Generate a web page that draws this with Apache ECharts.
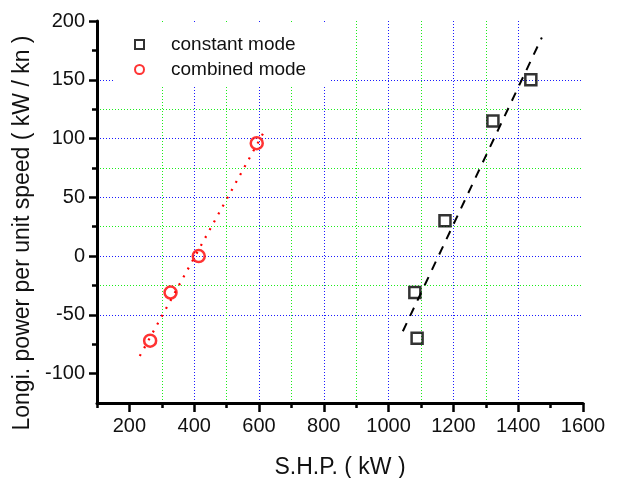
<!DOCTYPE html>
<html>
<head>
<meta charset="utf-8">
<script src="https://cdn.jsdelivr.net/npm/echarts@6/dist/echarts.min.js"></script>
<style>html,body{margin:0;padding:0;background:#fff}#c{width:617px;height:478px}</style>
</head>
<body>
<div id="c"></div>
<script>
// Data
var constantX = [1081, 1088, 1174, 1322, 1439];
var constantY = [-31, -70, 30, 115, 150];
var combinedX = [264, 327, 414, 593];
var combinedY = [-72, -31, 0, 96];
// Fit line end points
var constantFitX = [1044, 1473];
var constantFitY = [-64, 186];
var combinedFitX = [232, 616];
var combinedFitY = [-85, 106];
// Tick values
var xMajor = [200, 400, 600, 800, 1000, 1200, 1400, 1600];
var xMinor = [100, 300, 500, 700, 900, 1100, 1300, 1500];
var yMajor = [-100, -50, 0, 50, 100, 150, 200];
var yMinor = [-75, -25, 25, 75, 125, 175];

function pairs(xs, ys) { return xs.map(function (x, i) { return [x, ys[i]]; }); }
function plain(v) { return String(v); }

var FONT = 'Liberation Sans, Arial, sans-serif';
var BLUE = '#1a1aff';
var GREEN = '#1aee1a';
var dot = [1, 2];
var TICK = { color: '#000', width: 2.5 };

function tickAxis(kind, min, max, vals, len, split) {
  var a = {
    type: 'value', min: min, max: max, interval: kind === 'x' ? 100 : 25,
    position: kind === 'x' ? 'bottom' : 'left',
    axisLine: { show: false, onZero: false },
    axisTick: { show: true, inside: false, length: len, customValues: vals, lineStyle: TICK },
    axisLabel: { show: false },
    splitLine: { show: false }
  };
  if (split) {
    a.splitLine = { show: true, showMinLine: false, showMaxLine: false, lineStyle: { color: split, width: 1, type: dot } };
  }
  return a;
}

var chart = echarts.init(document.getElementById('c'), null, { renderer: 'canvas' });
chart.setOption({
  animation: false,
  backgroundColor: '#fff',
  grid: { left: 97, right: 34, top: 21, bottom: 75, containLabel: false, outerBoundsMode: 'none' },
  legend: {
    data: ['constant mode', 'combined mode'],
    left: 113, top: 24,
    orient: 'vertical',
    backgroundColor: '#fff',
    padding: [11, 23, 8, 21],
    itemGap: 6,
    itemWidth: 9, itemHeight: 9,
    textStyle: { fontFamily: FONT, fontSize: 19, color: '#111', padding: [0, 0, 0, 22] }
  },
  xAxis: [{
    type: 'value', min: 100, max: 1600, interval: 100,
    name: 'S.H.P. ( kW )', nameLocation: 'middle', nameGap: 53,
    nameTextStyle: { fontFamily: FONT, fontSize: 23, color: '#111' },
    axisLine: { show: true, onZero: false, lineStyle: { color: '#000', width: 3 } },
    axisTick: { show: true, inside: false, length: 9, customValues: xMajor, lineStyle: TICK },
    axisLabel: { customValues: xMajor, formatter: plain, fontFamily: FONT, fontSize: 20, color: '#111', margin: 13 },
    splitLine: { show: true, showMinLine: false, showMaxLine: false, lineStyle: { color: BLUE, width: 1, type: dot } }
  },
    tickAxis('x', 100, 1600, xMinor, 5, GREEN),
    tickAxis('x', 100, 1600, xMajor, 9, null)
  ],
  yAxis: [{
    type: 'value', min: -125, max: 200, interval: 25,
    name: 'Longi. power per unit speed ( kW / kn )', nameLocation: 'middle', nameGap: 63,
    nameTextStyle: { fontFamily: FONT, fontSize: 23, color: '#111', padding: [0, 42, 0, 0] },
    axisLine: { show: true, onZero: false, lineStyle: { color: '#000', width: 3 } },
    axisTick: { show: true, inside: false, length: 8, customValues: yMajor, lineStyle: TICK },
    axisLabel: { customValues: yMajor, formatter: plain, fontFamily: FONT, fontSize: 20, color: '#111', margin: 12 },
    splitLine: { show: true, showMinLine: false, showMaxLine: false, lineStyle: { color: BLUE, width: 1, type: dot } }
  },
    tickAxis('y', -125, 200, yMinor, 5, GREEN),
    tickAxis('y', -125, 200, yMajor, 8, null)
  ],
  series: [{
    name: 'constant fit', type: 'line', xAxisIndex: 0, yAxisIndex: 0,
    data: pairs(constantFitX, constantFitY), symbol: 'none', silent: true,
    lineStyle: { color: '#000', width: 2, type: [9, 8] }, z: 2
  }, {
    name: 'combined fit', type: 'line', xAxisIndex: 0, yAxisIndex: 0,
    data: pairs(combinedFitX, combinedFitY), symbol: 'none', silent: true,
    lineStyle: { color: '#ff0000', width: 2.2, type: [2, 7] }, z: 2
  }, {
    name: 'constant mode', type: 'scatter', xAxisIndex: 0, yAxisIndex: 0,
    data: pairs(constantX, constantY), symbol: 'rect', symbolSize: 11,
    itemStyle: { color: 'rgba(255,255,255,0)', borderColor: '#000', borderWidth: 2.5 }, z: 3
  }, {
    name: 'combined mode', type: 'scatter', xAxisIndex: 0, yAxisIndex: 0,
    data: pairs(combinedX, combinedY), symbol: 'circle', symbolSize: 12,
    itemStyle: { color: 'rgba(255,255,255,0)', borderColor: '#ff0000', borderWidth: 2.5 }, z: 3
  }]
});
</script>
</body>
</html>
